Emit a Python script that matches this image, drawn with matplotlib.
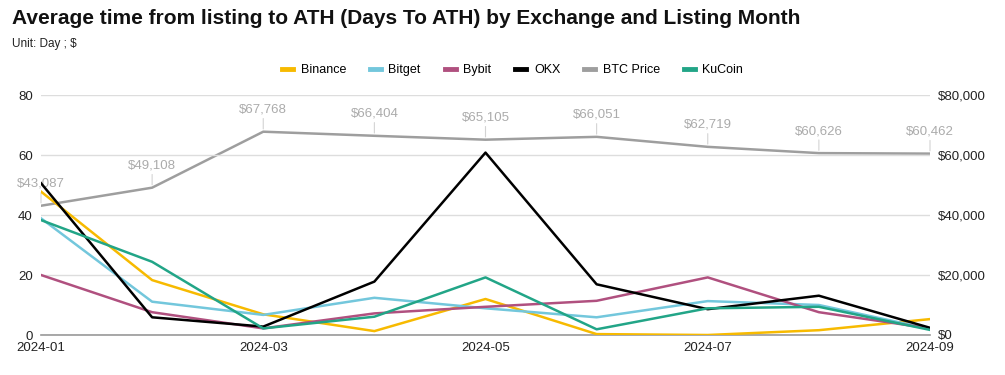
import matplotlib
matplotlib.use("Agg")
import matplotlib.pyplot as plt
from matplotlib.lines import Line2D

plt.rcParams['font.family'] = ['Liberation Sans', 'DejaVu Sans']

months = ["2024-01", "2024-02", "2024-03", "2024-04", "2024-05",
          "2024-06", "2024-07", "2024-08", "2024-09"]
binance = [47.8, 18.3, 6.9, 1.3, 12.0, 0.3, 0.0, 1.6, 5.3]
bitget = [38.9, 11.1, 6.7, 12.4, 8.9, 5.9, 11.3, 10.0, 2.0]
bybit = [20.0, 7.6, 2.2, 7.2, 9.4, 11.4, 19.2, 7.6, 2.2]
okx = [50.6, 5.9, 2.8, 17.8, 60.8, 16.9, 8.6, 13.1, 2.4]
kucoin = [38.3, 24.4, 2.2, 6.1, 19.2, 1.9, 8.9, 9.4, 1.7]
btc_price = [43087, 49108, 67768, 66404, 65105, 66051, 62719, 60626, 60462]
xtick_labels = ["2024-01", "2024-03", "2024-05", "2024-07", "2024-09"]

colors = {
    "Binance": "#F7BA00",
    "Bitget": "#73C7DC",
    "Bybit": "#B0507F",
    "OKX": "#000000",
    "BTC Price": "#9E9E9E",
    "KuCoin": "#22A587",
}

fig = plt.figure(figsize=(10.05, 3.75), dpi=100)
ax = fig.add_axes([41/1005, 1-335/375, (930-41)/1005, (335-95)/375])
ax2 = ax.twinx()

x = list(range(len(months)))
lw = 1.8
series = [("Binance", binance), ("Bitget", bitget), ("Bybit", bybit),
          ("OKX", okx), ("KuCoin", kucoin)]

ax2.plot(x, btc_price, color=colors["BTC Price"], lw=lw, zorder=2)
for xi, v in zip(x, btc_price):
    ax2.annotate(f"${v:,}", xy=(xi, v), xytext=(0, 11.5), textcoords="offset points",
                 ha="center", va="bottom", fontsize=9.5, color="#ABABAB",
                 arrowprops=dict(arrowstyle="-", color="#D3D3D3", lw=0.8,
                                 shrinkA=0, shrinkB=2))

for name, vals in series:
    ax.plot(x, vals, color=colors[name], lw=lw, zorder=3)

ax.set_zorder(ax2.get_zorder() + 1)
ax.patch.set_visible(False)

ax.set_xlim(0, len(months) - 1)
ax.set_ylim(0, 80)
ax2.set_ylim(0, 80000)
ax.set_yticks([0, 20, 40, 60, 80])
ax2.set_yticks([0, 20000, 40000, 60000, 80000])
ax2.set_yticklabels([f"${v:,}" for v in [0, 20000, 40000, 60000, 80000]])
ax.set_xticks([months.index(m) for m in xtick_labels])
ax.set_xticklabels(xtick_labels)

ax.grid(axis="y", color="#DDDDDD", lw=1)
ax.set_axisbelow(True)
for a in (ax, ax2):
    for s in a.spines.values():
        s.set_visible(False)
    a.tick_params(length=0, labelsize=9.5, colors="#222222")
ax.spines["bottom"].set_visible(True)
ax.spines["bottom"].set_color("#999999")
ax.spines["bottom"].set_linewidth(1.2)
ax.tick_params(axis="x", pad=5)
ax.tick_params(axis="y", pad=6)
ax2.tick_params(axis="y", pad=6)

fig.text(12/1005, 1-18/375, "Average time from listing to ATH (Days To ATH) by Exchange and Listing Month",
         fontsize=15, fontweight="bold", va="center", ha="left", color="#111111")
fig.text(12/1005, 1-44/375, "Unit: Day ; $", fontsize=8.5, va="center", ha="left", color="#222222")

order = ["Binance", "Bitget", "Bybit", "OKX", "BTC Price", "KuCoin"]
handles = [Line2D([0], [0], color=colors[n], lw=3.5) for n in order]
fig.legend(handles, order, loc="center", bbox_to_anchor=(0.51, 1-70/375), ncol=6,
           frameon=False, fontsize=9, handlelength=0.9, handletextpad=0.6, columnspacing=1.9)

fig.savefig("out.png", dpi=100)
